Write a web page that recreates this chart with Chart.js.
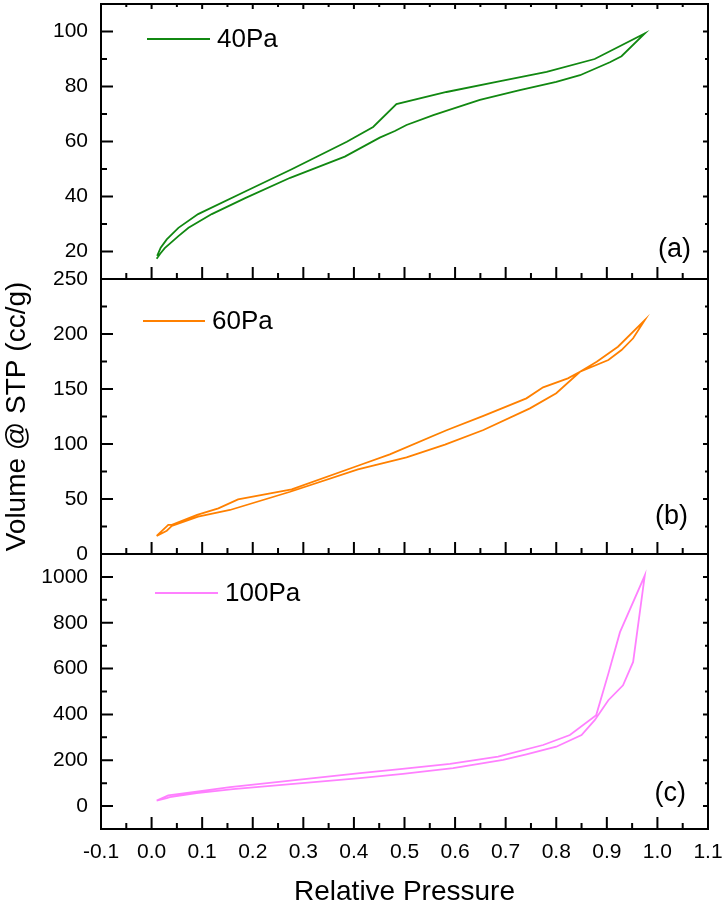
<!DOCTYPE html>
<html>
<head>
<meta charset="utf-8">
<script src="https://cdn.jsdelivr.net/npm/chart.js@4.4.0/dist/chart.umd.min.js"></script>
<style>
  html, body { margin: 0; padding: 0; background: #fff; }
  #wrap { position: relative; width: 723px; height: 909px; }
  #wrap canvas { position: absolute; left: 0; top: 0; }
</style>
</head>
<body>
<div id="wrap">
  <canvas id="chartA" width="723" height="909"></canvas>
  <canvas id="chartB" width="723" height="909"></canvas>
  <canvas id="chartC" width="723" height="909"></canvas>
</div>
<script>
const FONT = '"Liberation Sans", Arial, sans-serif';

// shared x axis (relative pressure)
const xMajor = [-0.1, 0.0, 0.1, 0.2, 0.3, 0.4, 0.5, 0.6, 0.7, 0.8, 0.9, 1.0, 1.1];
const xMinor = [-0.05, 0.05, 0.15, 0.25, 0.35, 0.45, 0.55, 0.65, 0.75, 0.85, 0.95, 1.05];

// (a) 40Pa
const p40AdsX = [0.010, 0.017, 0.026, 0.053, 0.073, 0.119, 0.185, 0.274, 0.382, 0.451, 0.481, 0.504, 0.557, 0.649, 0.728, 0.800, 0.847, 0.906, 0.929, 0.975];
const p40AdsY = [17.4, 19.2, 21.2, 25.6, 28.6, 33.6, 39.4, 46.8, 54.5, 61.4, 63.8, 66.0, 69.6, 75.1, 78.7, 81.7, 84.1, 88.8, 91.0, 99.3];
const p40DesX = [0.975, 0.876, 0.781, 0.682, 0.583, 0.484, 0.438, 0.386, 0.277, 0.185, 0.092, 0.053, 0.030, 0.018, 0.011];
const p40DesY = [99.3, 90.0, 85.3, 81.7, 78.0, 73.6, 65.3, 59.9, 49.9, 41.8, 33.6, 28.6, 24.4, 21.4, 18.4];
const yMajorA = [20, 40, 60, 80, 100];
const yMinorA = [30, 50, 70, 90];

// (b) 60Pa
const p60AdsX = [0.010, 0.030, 0.040, 0.092, 0.155, 0.274, 0.408, 0.504, 0.580, 0.656, 0.748, 0.800, 0.847, 0.903, 0.929, 0.952, 0.975];
const p60AdsY = [16.4, 21.2, 25.5, 33.9, 40.0, 56.6, 77.0, 87.9, 99.5, 112.7, 132.4, 146.1, 165.7, 176.3, 185.4, 196.1, 212.7];
const p60DesX = [0.975, 0.922, 0.880, 0.847, 0.823, 0.774, 0.741, 0.656, 0.583, 0.471, 0.412, 0.277, 0.171, 0.132, 0.090, 0.040, 0.033, 0.010];
const p60DesY = [212.7, 188.4, 174.8, 165.7, 159.7, 151.5, 141.5, 125.5, 112.5, 90.5, 80.9, 58.8, 49.7, 41.5, 35.5, 26.4, 26.4, 16.4];
const yMajorB = [0, 50, 100, 150, 200, 250];
const yMinorB = [25, 75, 125, 175, 225];

// (c) 100Pa
const p100AdsX = [0.010, 0.030, 0.036, 0.089, 0.161, 0.412, 0.497, 0.596, 0.695, 0.741, 0.800, 0.850, 0.876, 0.903, 0.932, 0.952, 0.975];
const p100AdsY = [24.3, 34.8, 39.1, 56.5, 73.9, 121.7, 140.4, 165.2, 201.3, 226, 259, 310, 375, 462, 527, 629, 1006];
const p100DesX = [0.975, 0.926, 0.903, 0.879, 0.827, 0.774, 0.685, 0.590, 0.491, 0.412, 0.155, 0.089, 0.033, 0.010];
const p100DesY = [1006, 759, 578, 397, 310, 266.5, 215.7, 184, 160.9, 143.5, 82.6, 63.5, 46.5, 24.3];
const yMajorC = [0, 200, 400, 600, 800, 1000];
const yMinorC = [100, 300, 500, 700, 900];

const loop = (ax, ay, dx, dy) =>
  ax.map((x, i) => ({ x, y: ay[i] })).concat(dx.map((x, i) => ({ x, y: dy[i] })));

// box frame + inward ticks
const frameTicks = {
  id: "frameTicks",
  afterDraw(chart, args, o) {
    const { ctx, chartArea: a, scales: { x, y } } = chart;
    ctx.save();
    ctx.strokeStyle = "#000";
    ctx.lineWidth = 2;
    ctx.strokeRect(a.left, a.top, a.right - a.left, a.bottom - a.top);
    ctx.beginPath();
    const seg = (x1, y1, x2, y2) => { ctx.moveTo(x1, y1); ctx.lineTo(x2, y2); };
    xMajor.forEach(v => {
      const px = x.getPixelForValue(v);
      seg(px, a.bottom, px, a.bottom - 12);
      if (o.top) seg(px, a.top, px, a.top + 5);
    });
    xMinor.forEach(v => {
      const px = x.getPixelForValue(v);
      seg(px, a.bottom, px, a.bottom - 6);
      if (o.top) seg(px, a.top, px, a.top + 3);
    });
    o.major.forEach(v => {
      const py = y.getPixelForValue(v);
      seg(a.left, py, a.left + 12, py);
      seg(a.right, py, a.right - 5, py);
    });
    o.minor.forEach(v => {
      const py = y.getPixelForValue(v);
      seg(a.left, py, a.left + 6, py);
      seg(a.right, py, a.right - 3, py);
    });
    ctx.stroke();
    ctx.restore();
  }
};

// legend line + name, panel letter
const panelText = {
  id: "panelText",
  afterDraw(chart, args, o) {
    const { ctx, chartArea: a } = chart;
    ctx.save();
    ctx.strokeStyle = o.color;
    ctx.lineWidth = 1.8;
    ctx.beginPath();
    ctx.moveTo(a.left + o.legX1, a.top + o.legY);
    ctx.lineTo(a.left + o.legX2, a.top + o.legY);
    ctx.stroke();
    ctx.fillStyle = "#000";
    ctx.textBaseline = "middle";
    ctx.textAlign = "left";
    ctx.font = "26px " + FONT;
    ctx.fillText(o.name, a.left + o.legX2 + 7, a.top + o.legY + 1);
    ctx.textAlign = "right";
    ctx.font = "27px " + FONT;
    ctx.fillText(o.tag, a.right - o.tagDx, a.bottom - o.tagDy);
    ctx.restore();
  }
};

// keep tick-label overflow from pushing the plot area around
const noPad = s => { s.paddingTop = 0; s.paddingBottom = 0; s.paddingLeft = 0; s.paddingRight = 0; };

function makePanel(id, cfg) {
  const xAxis = {
    min: -0.1, max: 1.1,
    display: !!cfg.xLabels,
    afterBuildTicks: s => { s.ticks = xMajor.map(v => ({ value: v })); },
    afterFit: s => { s.height = cfg.xLabels ? 80 : 0; noPad(s); },
    grid: { display: false, drawTicks: false },
    border: { display: false },
    ticks: {
      autoSkip: false, maxRotation: 0, padding: 11, color: "#000",
      font: { size: 21, family: FONT },
      callback: v => v.toFixed(1)
    },
    title: {
      display: true, text: "Relative Pressure", color: "#000",
      font: { size: 28, family: FONT }, padding: { top: 0, bottom: 0 }
    }
  };
  const yAxis = {
    min: cfg.yMin, max: cfg.yMax,
    afterBuildTicks: s => { s.ticks = cfg.major.map(v => ({ value: v })); },
    afterFit: s => { s.width = 101; noPad(s); },
    grid: { display: false, drawTicks: false },
    border: { display: false },
    ticks: {
      autoSkip: false, padding: 13, color: "#000",
      font: { size: 21, family: FONT },
      callback: v => String(v)
    },
    title: {
      display: !!cfg.yTitle, text: "Volume @ STP (cc/g)", color: "#000",
      font: { size: 28, family: FONT }, padding: { top: 0, bottom: 0 }
    }
  };
  return new Chart(document.getElementById(id), {
    type: "scatter",
    data: {
      datasets: [{
        data: cfg.points,
        showLine: true,
        borderColor: cfg.color,
        borderWidth: 1.8,
        pointRadius: 0,
        tension: 0,
        fill: false
      }]
    },
    options: {
      responsive: false,
      animation: false,
      devicePixelRatio: 1,
      layout: { padding: cfg.padding },
      plugins: {
        legend: { display: false },
        tooltip: { enabled: false },
        frameTicks: { major: cfg.major, minor: cfg.minor, top: cfg.top },
        panelText: cfg.text
      },
      scales: { x: xAxis, y: yAxis }
    },
    plugins: [frameTicks, panelText]
  });
}

makePanel("chartA", {
  points: loop(p40AdsX, p40AdsY, p40DesX, p40DesY),
  color: "#118811",
  yMin: 10, yMax: 110, major: yMajorA, minor: yMinorA, top: true,
  padding: { top: 4, right: 15, bottom: 630, left: 0 },
  text: { color: "#118811", name: "40Pa", tag: "(a)", legX1: 46, legX2: 109, legY: 35, tagDx: 17, tagDy: 29 }
});

makePanel("chartB", {
  points: loop(p60AdsX, p60AdsY, p60DesX, p60DesY),
  color: "#ff8000",
  yMin: 0, yMax: 250, major: yMajorB, minor: yMinorB, yTitle: true,
  padding: { top: 279, right: 15, bottom: 355, left: 0 },
  text: { color: "#ff8000", name: "60Pa", tag: "(b)", legX1: 42, legX2: 104, legY: 42, tagDx: 20, tagDy: 37 }
});

makePanel("chartC", {
  points: loop(p100AdsX, p100AdsY, p100DesX, p100DesY),
  color: "#ff80ff",
  yMin: -100, yMax: 1100, major: yMajorC, minor: yMinorC, xLabels: true,
  padding: { top: 554, right: 15, bottom: 0, left: 0 },
  text: { color: "#ff80ff", name: "100Pa", tag: "(c)", legX1: 54, legX2: 117, legY: 39, tagDx: 22, tagDy: 35 }
});
</script>
</body>
</html>
